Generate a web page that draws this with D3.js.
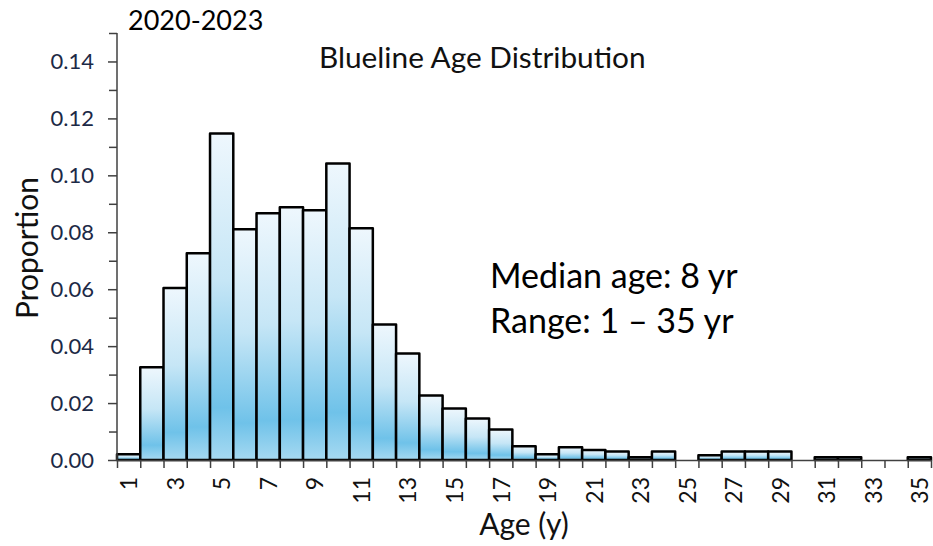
<!DOCTYPE html>
<html>
<head>
<meta charset="utf-8">
<script src="https://cdn.jsdelivr.net/npm/d3@7"></script>
<style>
  html, body { margin: 0; padding: 0; background: #fff; }
  svg { display: block; font-family: Lato, "Open Sans", sans-serif; }
</style>
</head>
<body>
<svg id="chart" width="933" height="546"></svg>
<script>
// Age bins (years) and the proportion of lines in each bin
const ages = [1, 2, 3, 4, 5, 6, 7, 8, 9, 10, 11, 12, 13, 14, 15, 16, 17, 18,
              19, 20, 21, 22, 23, 24, 25, 26, 27, 28, 29, 30, 31, 32, 33, 34, 35];
const proportions = [0.002, 0.0326, 0.0604, 0.0726, 0.1147, 0.0811, 0.0867, 0.0888,
                     0.0877, 0.1042, 0.0814, 0.0476, 0.0374, 0.0227, 0.0181, 0.0146,
                     0.0107, 0.0048, 0.002, 0.0045, 0.0035, 0.003, 0.001, 0.003,
                     0, 0.0017, 0.003, 0.003, 0.003, 0, 0.001, 0.001, 0, 0, 0.001];
const yMajorTicks = [0, 0.02, 0.04, 0.06, 0.08, 0.10, 0.12, 0.14];
const yMinorTicks = [0.01, 0.03, 0.05, 0.07, 0.09, 0.11, 0.13, 0.15];
const xLabelAges = [1, 3, 5, 7, 9, 11, 13, 15, 17, 19, 21, 23, 25, 27, 29, 31, 33, 35];

const svg = d3.select("#chart");
const plotLeft = 117, plotRight = 931, plotTop = 33, plotBottom = 460;

const x = d3.scaleLinear().domain([0.5, 35.5]).range([plotLeft, plotRight]);
const y = d3.scaleLinear().domain([0, 0.15]).range([plotBottom, plotTop]);

// vertical gradient used inside every bar
const defs = svg.append("defs");
const grad = defs.append("linearGradient")
  .attr("id", "barFill").attr("x1", 0).attr("y1", 0).attr("x2", 0).attr("y2", 1);
grad.append("stop").attr("offset", "0%").attr("stop-color", "#eef7fd");
grad.append("stop").attr("offset", "45%").attr("stop-color", "#c6e6f6");
grad.append("stop").attr("offset", "84%").attr("stop-color", "#6fc2e9");
grad.append("stop").attr("offset", "100%").attr("stop-color", "#a6d9f1");

// bars
const bins = ages.map((a, i) => ({ age: a, p: proportions[i] })).filter(d => d.p > 0);
svg.append("g").selectAll("rect").data(bins).join("rect")
  .attr("x", d => x(d.age - 0.5))
  .attr("width", d => x(d.age + 0.5) - x(d.age - 0.5))
  .attr("y", d => y(d.p))
  .attr("height", d => y(0) - y(d.p))
  .attr("fill", "url(#barFill)")
  .attr("stroke", "#000")
  .attr("stroke-width", 2.5)
  .attr("stroke-linejoin", "round");

// y axis: labelled majors and unlabelled minors
const axisColor = "#404040";
const gy = svg.append("g").attr("transform", `translate(${plotLeft},0)`)
  .call(d3.axisLeft(y).tickValues(yMajorTicks).tickFormat(d3.format(".2f"))
        .tickSize(9).tickSizeOuter(0).tickPadding(14));
gy.select(".domain").remove();
gy.selectAll(".tick line").attr("stroke", axisColor).attr("stroke-width", 1.5);
gy.selectAll(".tick text").attr("font-size", 22).attr("fill", "#1c2946")
  .attr("font-family", "Lato, sans-serif");
const gyMinor = svg.append("g").attr("transform", `translate(${plotLeft},0)`)
  .call(d3.axisLeft(y).tickValues(yMinorTicks).tickFormat("").tickSize(8).tickSizeOuter(0));
gyMinor.select(".domain").remove();
gyMinor.selectAll(".tick line").attr("stroke", axisColor).attr("stroke-width", 1.5);
svg.append("line").attr("x1", plotLeft).attr("x2", plotLeft)
  .attr("y1", y(0.15)).attr("y2", y(0))
  .attr("stroke", axisColor).attr("stroke-width", 1.5);

// x axis: ticks at every bin edge, odd ages labelled at bin centres
const edges = d3.range(0.5, 36, 1);
const gx = svg.append("g").attr("transform", `translate(0,${plotBottom})`)
  .call(d3.axisBottom(x).tickValues(edges).tickFormat("").tickSize(8).tickSizeOuter(0));
gx.select(".domain").attr("stroke", axisColor).attr("stroke-width", 1.5);
gx.selectAll(".tick line").attr("stroke", axisColor).attr("stroke-width", 1.5);

const gxl = svg.append("g").attr("transform", `translate(0,${plotBottom})`)
  .call(d3.axisBottom(x).tickValues(xLabelAges).tickFormat(d3.format("d")).tickSize(0));
gxl.select(".domain").remove();
gxl.selectAll(".tick text")
  .attr("font-size", 23).attr("fill", "#111").attr("font-family", "Lato, sans-serif")
  .attr("transform", "rotate(-90)")
  .attr("text-anchor", "end")
  .attr("x", -17).attr("y", 0).attr("dy", "0.36em");

// titles and annotations
svg.append("text").attr("x", 128).attr("y", 30).attr("font-size", 27).attr("fill", "#000")
  .text("2020-2023");
svg.append("text").attr("x", 319).attr("y", 68).attr("font-size", 29.8).attr("fill", "#111")
  .text("Blueline Age Distribution");
svg.append("text").attr("x", 490).attr("y", 288).attr("font-size", 34).attr("fill", "#000")
  .text("Median age: 8 yr");
svg.append("text").attr("x", 490).attr("y", 333).attr("font-size", 34).attr("fill", "#000")
  .text("Range: 1 \u2013 35 yr");

// axis titles
svg.append("text").attr("transform", "translate(38,248) rotate(-90)")
  .attr("text-anchor", "middle").attr("font-size", 30).attr("fill", "#111")
  .text("Proportion");
svg.append("text").attr("x", 524).attr("y", 535)
  .attr("text-anchor", "middle").attr("font-size", 30).attr("fill", "#111")
  .text("Age (y)");
</script>
</body>
</html>
